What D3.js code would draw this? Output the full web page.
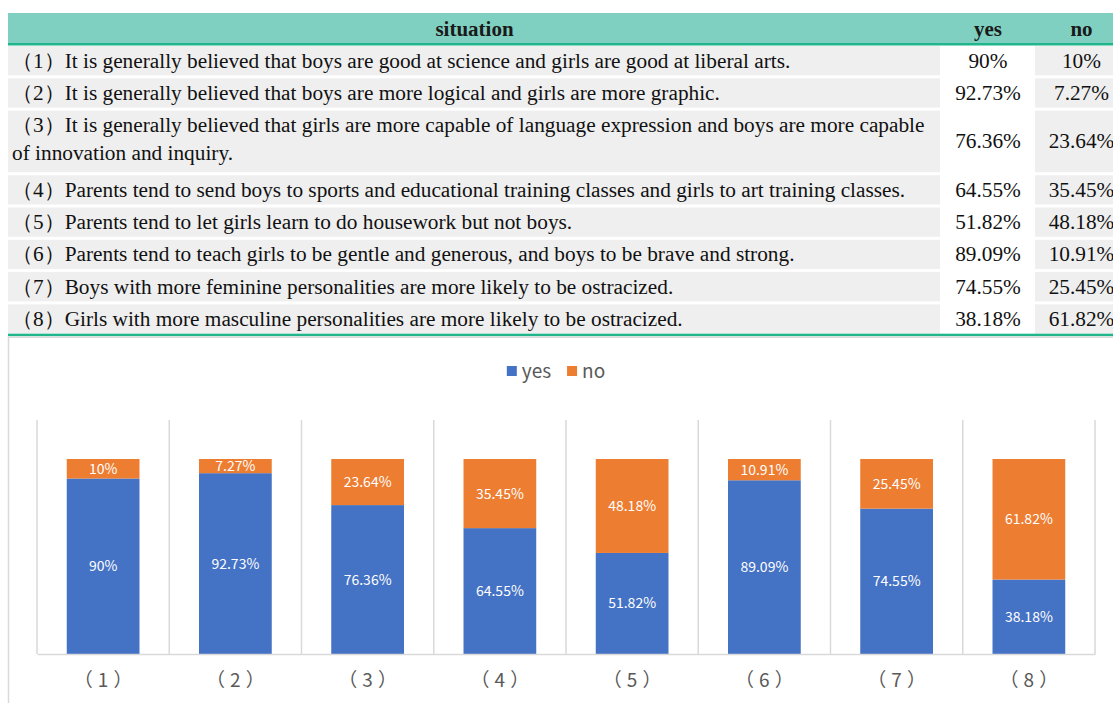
<!DOCTYPE html>
<html>
<head>
<meta charset="utf-8">
<script src="https://cdn.jsdelivr.net/npm/d3@7"></script>
<style>
	body { margin: 0; background: #fff; }
	svg { display: block; }
</style>
</head>
<body>
<svg id="chart" width="1113" height="703"></svg>
<script>
const categories = ["（1）", "（2）", "（3）", "（4）", "（5）", "（6）", "（7）", "（8）"];
const situations = [
	"It is generally believed that boys are good at science and girls are good at liberal arts.",
	"It is generally believed that boys are more logical and girls are more graphic.",
	"It is generally believed that girls are more capable of language expression and boys are more capable of innovation and inquiry.",
	"Parents tend to send boys to sports and educational training classes and girls to art training classes.",
	"Parents tend to let girls learn to do housework but not boys.",
	"Parents tend to teach girls to be gentle and generous, and boys to be brave and strong.",
	"Boys with more feminine personalities are more likely to be ostracized.",
	"Girls with more masculine personalities are more likely to be ostracized."
];
const yesValues = [90, 92.73, 76.36, 64.55, 51.82, 89.09, 74.55, 38.18];
const noValues = [10, 7.27, 23.64, 35.45, 48.18, 10.91, 25.45, 61.82];
const seriesNames = ["yes", "no"];
const columnHeaders = ["situation", "yes", "no"];

const svg = d3.select("#chart");
const fmt = (v) => `${v}%`;
const colours = d3.scaleOrdinal().domain(seriesNames).range(["#4472c4", "#ed7d31"]);

// ---- table ----
const serif = "'Liberation Serif', 'Times New Roman', serif";
const tableFont = "21.3px";
const colEdges = [8, 941, 1035, 1128];
const lineStep = 28;
const rowGap = 3;
const textMax = colEdges[1] - 12;

const table = svg.append("g").attr("font-family", serif).attr("fill", "#111");

table.append("rect")
.attr("x", colEdges[0])
.attr("y", 13)
.attr("width", colEdges[3] - colEdges[0])
.attr("height", 31)
.attr("fill", "#7fd0c1");

table.selectAll(".head")
.data(columnHeaders)
.enter()
.append("text")
.attr("class", "head")
.attr("x", (d, i) => (colEdges[i] + colEdges[i + 1]) / 2)
.attr("y", 36)
.attr("text-anchor", "middle")
.attr("font-size", "21px")
.attr("font-weight", "bold")
.attr("fill", "#1a1a1a")
.text((d) => d);

table.append("rect")
.attr("x", colEdges[0])
.attr("y", 43)
.attr("width", colEdges[3] - colEdges[0])
.attr("height", 2.5)
.attr("fill", "#1fb68c");

// wrap the situation text into lines that fit the first column
const measure = table.append("text").attr("font-size", tableFont);
const wrap = (str) => {
	const words = str.split(" ");
	const lines = [];
	let line = "";

	words.forEach((w) => {
		const test = line ? `${line} ${w}` : w;
		measure.text(test);

		if (measure.node().getComputedTextLength() > textMax && line) {
			lines.push(line);
			line = w;
		} else {
			line = test;
		}
	});
	lines.push(line);

	return lines;
};

const rows = situations.map((s, i) => ({
	lines: wrap(`${categories[i]}${s}`),
	yes: yesValues[i],
	no: noValues[i]
}));
measure.remove();

let rowTop = 46;
rows.forEach((r) => {
	r.top = rowTop;
	r.height = r.lines.length * 32.3 - rowGap;
	rowTop += r.height + rowGap;
});

const row = table.selectAll(".row")
.data(rows)
.enter()
.append("g")
.attr("class", "row")
.attr("transform", (d) => `translate(0, ${d.top})`);

row.append("rect")
.attr("x", colEdges[0])
.attr("width", colEdges[1] - colEdges[0] - 1)
.attr("height", (d) => d.height)
.attr("fill", "#efefef");

row.append("rect")
.attr("x", colEdges[2])
.attr("width", colEdges[3] - colEdges[2])
.attr("height", (d) => d.height)
.attr("fill", "#efefef");

row.append("text")
.attr("x", 12)
.attr("font-size", tableFont)
.selectAll("tspan")
.data((d) => d.lines)
.enter()
.append("tspan")
.attr("x", 12)
.attr("y", (d, i) => 21.5 + i * lineStep)
.text((d) => d);

row.selectAll(".val")
.data((d) => [d.yes, d.no].map((v) => ({v, h: d.height})))
.enter()
.append("text")
.attr("class", "val")
.attr("x", (d, i) => (colEdges[i + 1] + colEdges[i + 2]) / 2)
.attr("y", (d) => d.h / 2 + 7)
.attr("text-anchor", "middle")
.attr("font-size", tableFont)
.text((d) => fmt(d.v));

table.append("rect")
.attr("x", colEdges[0])
.attr("y", rowTop - rowGap)
.attr("width", colEdges[3] - colEdges[0])
.attr("height", 2.5)
.attr("fill", "#1fb68c");

// ---- chart ----
const sans = "'Noto Sans CJK JP', 'Noto Sans', sans-serif";
const chartTop = rowTop;

svg.append("rect")
.attr("x", 8.5)
.attr("y", chartTop + 0.5)
.attr("width", 1130)
.attr("height", 400)
.attr("fill", "none")
.attr("stroke", "#d9d9d9")
.attr("stroke-width", 1.5);

const x = d3.scaleBand().domain(categories).range([37, 1095]);
const y = d3.scaleLinear().domain([0, 120]).range([654, 420]);
const barWidth = x.bandwidth() * 0.55;

const grid = svg.append("g");
grid.selectAll("line")
.data(categories.map((c) => x(c)).concat([x.range()[1]]))
.enter()
.append("line")
.attr("x1", (d) => d)
.attr("x2", (d) => d)
.attr("y1", y(120))
.attr("y2", y(0))
.attr("stroke", "#d9d9d9")
.attr("stroke-width", 1.5);

const stacked = d3.stack().keys(seriesNames)(rows);

const layer = svg.selectAll(".layer")
.data(stacked)
.enter()
.append("g")
.attr("class", "layer")
.attr("fill", (d) => colours(d.key));

layer.selectAll("rect")
.data((d) => d)
.enter()
.append("rect")
.attr("x", (d, i) => x(categories[i]) + (x.bandwidth() - barWidth) / 2)
.attr("y", (d) => y(d[1]))
.attr("width", barWidth)
.attr("height", (d) => y(d[0]) - y(d[1]));

layer.selectAll("text")
.data((d) => d.map((s) => ({s, key: d.key})))
.enter()
.append("text")
.attr("x", (d, i) => x(categories[i]) + x.bandwidth() / 2)
.attr("y", (d) => y((d.s[0] + d.s[1]) / 2) + 5)
.attr("text-anchor", "middle")
.attr("font-family", sans)
.attr("font-size", "14px")
.attr("fill", "#fff")
.text((d) => fmt(d.s.data[d.key]));

const xAxis = svg.append("g")
.attr("transform", `translate(0, ${y(0)})`)
.call(d3.axisBottom(x).tickSize(0).tickSizeOuter(0).tickPadding(20));

xAxis.select(".domain")
.attr("stroke", "#d9d9d9")
.attr("stroke-width", 1.5);

xAxis.selectAll("text")
.attr("font-family", sans)
.attr("font-size", "19px")
.attr("letter-spacing", "5px")
.attr("dx", "2.5px")
.attr("fill", "#595959");

// legend
const legend = svg.append("g").attr("font-family", sans).attr("font-size", "19px").attr("fill", "#595959");
const item = legend.selectAll(".item")
.data(seriesNames)
.enter()
.append("g")
.attr("class", "item");

item.append("rect")
.attr("width", 10)
.attr("height", 10)
.attr("y", -5)
.attr("fill", (d) => colours(d));

item.append("text")
.attr("x", 15)
.attr("y", 6.5)
.text((d) => d);

let offset = 0;
item.each(function() {
	d3.select(this).attr("transform", `translate(${offset}, 0)`);
	offset += 15 + this.querySelector("text").getComputedTextLength() + 16;
});
legend.attr("transform", `translate(${560 - (offset - 16) / 2 - 4}, 371)`);
</script>
</body>
</html>
